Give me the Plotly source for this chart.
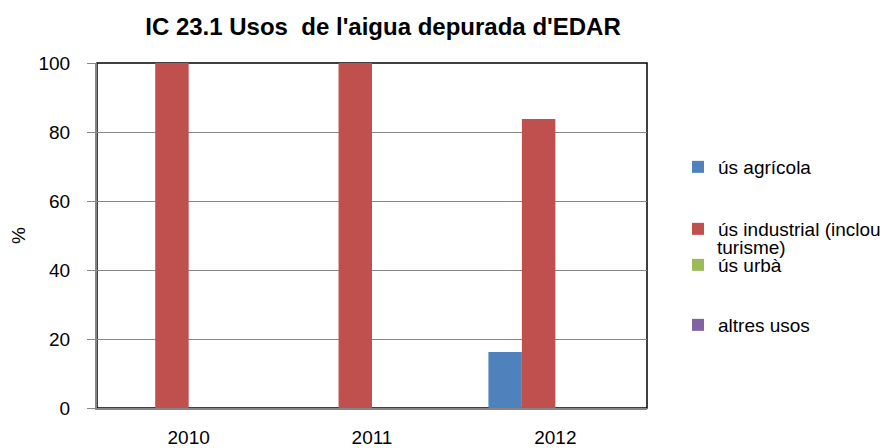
import plotly.graph_objects as go

years = ["2010", "2011", "2012"]
series_names = ["ús agrícola", "ús industrial (inclou", "ús urbà", "altres usos"]
legend_continuation = "turisme)"
agricola = [0, 0, 16.2]
industrial = [100, 100, 83.8]
urba = [0, 0, 0]
altres = [0, 0, 0]
colors = ["#4F81BD", "#C0504D", "#9BBB59", "#8064A2"]
y_ticks = [0, 20, 40, 60, 80, 100]

FONT = "Liberation Sans, Arial, sans-serif"
values = [agricola, industrial, urba, altres]
legend_ids = ["legend", "legend2", "legend3", "legend4"]
legend_y = [167, 229, 265, 325]

W, H = 892, 448
L, R, T, B = 97, 245, 63, 40

fig = go.Figure()
for name, vals, col, lid in zip(series_names, values, colors, legend_ids):
    fig.add_trace(go.Bar(x=years, y=vals, name=name, marker=dict(color=col, line=dict(width=0)),
                         legend=lid))

layout_legends = {}
for lid, yy in zip(legend_ids, legend_y):
    layout_legends[lid] = dict(
        x=678 / W, xref="container", xanchor="left",
        y=1 - (yy - 19) / H, yref="container", yanchor="top",
        valign="top",
        font=dict(family=FONT, size=19, color="#000000"),
        bgcolor="rgba(0,0,0,0)", borderwidth=0,
        itemclick=False, itemdoubleclick=False,
        tracegroupgap=0,
    )

pw, ph = W - L - R, H - T - B
fig.update_layout(
    width=W, height=H,
    margin=dict(l=L, r=R, t=T, b=B, autoexpand=False),
    paper_bgcolor="white", plot_bgcolor="white",
    barmode="group", bargap=0.27, bargroupgap=0,
    showlegend=True,
    title=dict(text="<b>IC 23.1 Usos  de l'aigua depurada d'EDAR</b>", x=383 / W, xanchor="center",
               xref="container", y=1 - 27 / H, yanchor="middle", yref="container",
               font=dict(family=FONT, size=24, color="#000000")),
    font=dict(family=FONT, size=19, color="#000000"),
    xaxis=dict(showline=True, linecolor="#868686", linewidth=2, ticks="", showgrid=False,
               tickfont=dict(family=FONT, size=19, color="#000000"), ticklabelstandoff=11),
    yaxis=dict(range=[0, 100], tickvals=y_ticks, showline=True, linecolor="#868686", linewidth=2,
               ticks="outside", ticklen=8, tickcolor="#868686", tickwidth=1,
               showgrid=True, gridcolor="#868686", gridwidth=1, zeroline=False,
               tickfont=dict(family=FONT, size=19, color="#000000"), ticklabelstandoff=13,
               title=dict(text="%", standoff=8, font=dict(family=FONT, size=19, color="#000000"))),
    **layout_legends,
)
fig.add_annotation(text=legend_continuation, xref="paper", yref="paper",
                   x=(715 - L) / pw, y=(H - B - 247) / ph, xanchor="left", yanchor="middle",
                   showarrow=False, font=dict(family=FONT, size=19, color="#000000"))
fig.add_shape(type="rect", xref="paper", yref="paper", x0=0, x1=1, y0=0, y1=1,
              line=dict(color="#000000", width=1.5), fillcolor="rgba(0,0,0,0)", layer="below")
fig.write_html("out.html", config={"displayModeBar": False},
               post_script="document.body.style.margin='0';")
